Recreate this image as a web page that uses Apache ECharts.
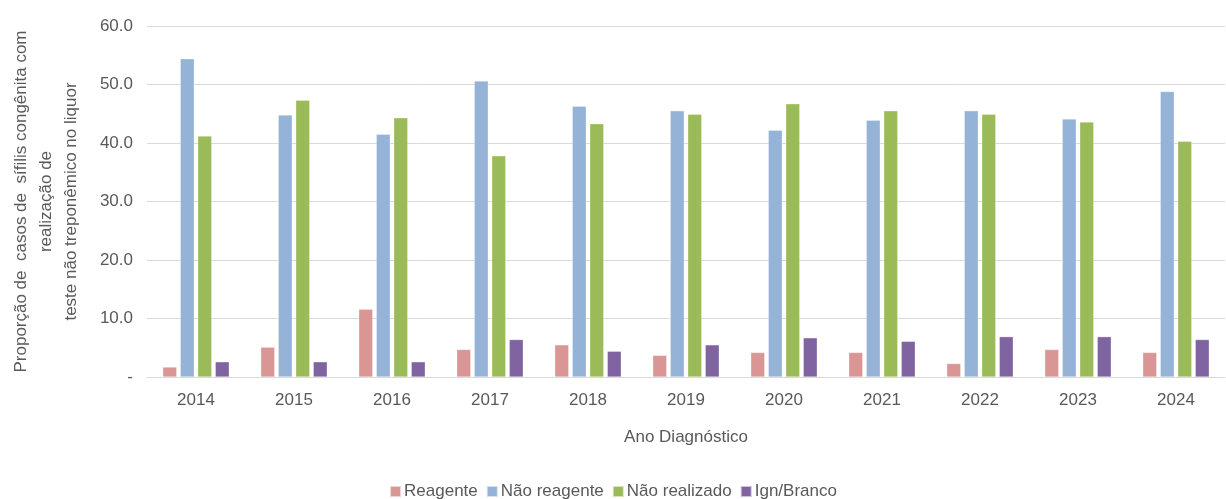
<!DOCTYPE html>
<html>
<head>
<meta charset="utf-8">
<script src="https://cdn.jsdelivr.net/npm/echarts@6/dist/echarts.min.js"></script>
<style>
html,body{margin:0;padding:0;background:#fff;}
#chart{width:1226px;height:499px;}
</style>
</head>
<body>
<div id="chart"></div>
<script>
var anos = ['2014','2015','2016','2017','2018','2019','2020','2021','2022','2023','2024'];
var reagente     = [1.7, 5.1, 11.6, 4.7, 5.5, 3.7, 4.2, 4.2, 2.3, 4.7, 4.2];
var naoReagente  = [54.4, 44.8, 41.5, 50.6, 46.3, 45.5, 42.2, 43.9, 45.5, 44.1, 48.8];
var naoRealizado = [41.2, 47.3, 44.3, 37.8, 43.3, 44.9, 46.7, 45.5, 44.9, 43.6, 40.3];
var ignBranco    = [2.6, 2.6, 2.6, 6.4, 4.4, 5.5, 6.7, 6.1, 6.9, 6.9, 6.4];

var fonte = 'Liberation Sans';
var cinza = '#595959';

var myChart = echarts.init(document.getElementById('chart'));

function serie(nome, dados, cor) {
	return {
		name: nome,
		type: 'bar',
		data: dados,
		barWidth: 14,
		barGap: '25%',
		itemStyle: {color: cor, borderColor: 'rgba(255,255,255,0.6)', borderWidth: 0.5},
		emphasis: {disabled: true}
	};
}

var option = {
	animation: false,
	grid: {left: 147, right: 1, top: 26, bottom: 122, outerBoundsMode: 'none', containLabel: false},
	legend: {
		bottom: -6,
		left: 'center',
		itemWidth: 11,
		itemHeight: 11,
		itemGap: 8,
		icon: 'rect',
		textStyle: {color: cinza, fontFamily: fonte, fontSize: 17, padding: [0,0,0,-2]},
		data: ['Reagente','Não reagente','Não realizado','Ign/Branco']
	},
	xAxis: {
		type: 'category',
		data: anos,
		name: 'Ano Diagnóstico',
		nameLocation: 'middle',
		nameGap: 52,
		nameTextStyle: {color: cinza, fontFamily: fonte, fontSize: 17},
		axisLine: {lineStyle: {color: '#d9d9d9'}},
		axisTick: {show: false},
		axisLabel: {color: cinza, fontFamily: fonte, fontSize: 17, margin: 15}
	},
	yAxis: {
		type: 'value',
		min: 0,
		max: 60,
		interval: 10,
		name: 'Proporção de  casos de  sífilis congênita com\nrealização de\nteste não treponêmico no liquor',
		nameLocation: 'middle',
		nameRotate: 90,
		nameGap: 63,
		nameTextStyle: {color: cinza, fontFamily: fonte, fontSize: 17, lineHeight: 25, align: 'center'},
		axisLine: {show: false},
		axisTick: {show: false},
		splitLine: {lineStyle: {color: '#d9d9d9', width: 1}},
		axisLabel: {
			color: cinza, fontFamily: fonte, fontSize: 17, margin: 14,
			formatter: function (v) { return v === 0 ? '-' : v.toFixed(1); }
		}
	},
	series: [
		serie('Reagente', reagente, '#D99694'),
		serie('Não reagente', naoReagente, '#95B3D7'),
		serie('Não realizado', naoRealizado, '#9BBB59'),
		serie('Ign/Branco', ignBranco, '#8064A2')
	]
};
myChart.setOption(option);
</script>
</body>
</html>
